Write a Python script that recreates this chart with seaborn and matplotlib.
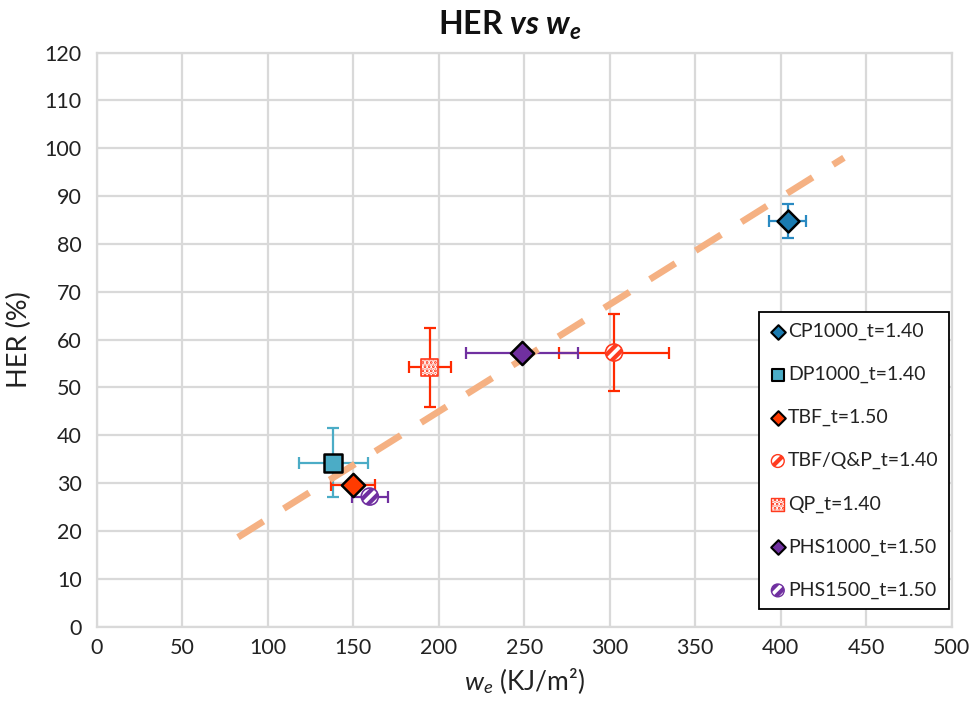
import matplotlib
matplotlib.use("Agg")
import matplotlib.pyplot as plt
import seaborn as sns
import pandas as pd
from matplotlib.legend_handler import HandlerTuple

sns.set_theme(style="white")
plt.rcParams['font.family'] = ['Lato', 'DejaVu Sans']
plt.rcParams['mathtext.fontset'] = 'custom'
plt.rcParams['mathtext.rm'] = 'Lato'
plt.rcParams['mathtext.it'] = 'Lato:italic'
plt.rcParams['mathtext.bf'] = 'Lato:bold'
plt.rcParams['mathtext.bfit'] = 'Lato:bold:italic'
plt.rcParams['hatch.linewidth'] = 2.6

# ---- data ----
series = ["CP1000_t=1.40", "DP1000_t=1.40", "TBF_t=1.50", "TBF/Q&P_t=1.40",
          "QP_t=1.40", "PHS1000_t=1.50", "PHS1500_t=1.50"]
we = [404, 138.2, 149.9, 302.5, 194.7, 248.7, 159.6]
her = [84.8, 34.3, 29.6, 57.3, 54.2, 57.1, 27.2]
we_err = [11, 20.3, 12.8, 32.4, 12.2, 33, 10.7]
her_err = [3.5, 7.2, 0, 8.0, 8.2, 0, 0]
trend_x = [82.5, 437]
trend_y = [18.7, 98]
x_ticks = [0, 50, 100, 150, 200, 250, 300, 350, 400, 450, 500]
y_ticks = [0, 10, 20, 30, 40, 50, 60, 70, 80, 90, 100, 110, 120]

# styles
face = ['#1b7bb0', '#4bacc6', '#ff3b00', '#ff3b1f', '#ff3b1f', '#7030a0', '#7030a0']
errc = ['#2a8ac2', '#4bacc6', '#ff2a00', '#ff2a00', '#ff2a00', '#7030a0', '#7030a0']
mk = ['D', 's', 'D', 'o', 's', 'D', 'o']
ms = [125, 150, 140, 150, 150, 140, 150]
leg_ms = [55, 85, 55, 85, 85, 55, 85]
hatch = [None, None, None, '///', '....', None, '///']

df = pd.DataFrame({"series": series, "we": we, "her": her,
                   "we_err": we_err, "her_err": her_err})

fig = plt.figure(figsize=(9.74, 7.03), dpi=100)
ax = fig.add_axes([0.0996, 0.1085, 0.8774, 0.8168])

# error bars
for i, row in df.iterrows():
    ax.errorbar(row["we"], row["her"], xerr=row["we_err"],
                yerr=row["her_err"] if row["her_err"] > 0 else None,
                fmt='none', ecolor=errc[i], elinewidth=1.6, capsize=4.5,
                capthick=1.6, zorder=3)

# trend line
ax.plot(trend_x, trend_y, color='#f5b183', lw=4.8, dashes=(4.5, 3.6),
        solid_capstyle='butt', dash_capstyle='butt', zorder=4)

# markers via seaborn
for i, row in df.iterrows():
    sub = df.iloc[[i]]
    if hatch[i] is None:
        sns.scatterplot(data=sub, x="we", y="her", marker=mk[i], s=ms[i],
                        color=face[i], edgecolor='black', linewidth=1.8,
                        ax=ax, zorder=5, legend=False)
    else:
        sns.scatterplot(data=sub, x="we", y="her", marker=mk[i], s=ms[i],
                        color=face[i], edgecolor='white', linewidth=0,
                        hatch=hatch[i], ax=ax, zorder=5, legend=False)
        sns.scatterplot(data=sub, x="we", y="her", marker=mk[i], s=ms[i],
                        facecolor='none', edgecolor=face[i], linewidth=1.2,
                        ax=ax, zorder=6, legend=False)

ax.set_xlim(0, 500)
ax.set_ylim(0, 120)
ax.set_xticks(x_ticks)
ax.set_yticks(y_ticks)
ax.tick_params(axis='both', length=0, labelsize=15.5, colors='#222222')
ax.tick_params(axis='x', pad=8)
ax.tick_params(axis='y', pad=11)
ax.grid(True, color='#d9d9d9', lw=1.6)
for sp in ax.spines.values():
    sp.set_color('#d9d9d9')
    sp.set_linewidth(1.6)

ax.set_xlabel(r"$w_e$ (KJ/m²)", fontsize=19, color='#222222', labelpad=6)
ax.set_ylabel("HER (%)", fontsize=19.5, color='#222222', labelpad=9)

fig.text(0.524, 0.964, r"HER $\mathbfit{vs}$ $\mathbfit{w_e}$", ha='center', va='center',
         fontsize=23, fontweight='bold', color='#111111')

# legend handles (empty proxies carrying marker styles)
handles = []
for i in range(len(series)):
    if hatch[i] is None:
        h = ax.scatter([], [], marker=mk[i], s=leg_ms[i], facecolor=face[i],
                       edgecolor='black', linewidth=1.5)
    else:
        h1 = ax.scatter([], [], marker=mk[i], s=leg_ms[i], facecolor=face[i],
                        edgecolor='white', linewidth=0, hatch=hatch[i])
        h2 = ax.scatter([], [], marker=mk[i], s=leg_ms[i], facecolor='none',
                        edgecolor=face[i], linewidth=1.0)
        h = (h1, h2)
    handles.append(h)
leg = ax.legend(handles, series, loc='upper left', bbox_to_anchor=(0.775, 0.548),
                fontsize=14, labelspacing=1.33, handletextpad=0.12, handlelength=0.8,
                borderpad=0.55, borderaxespad=0, frameon=True, fancybox=False,
                framealpha=1, scatterpoints=1,
                handler_map={tuple: HandlerTuple(ndivide=1, pad=0)})
leg.get_frame().set_edgecolor('black')
leg.get_frame().set_linewidth(1.3)
for t in leg.get_texts():
    t.set_color('#222222')

fig.savefig("out.png", dpi=100)
